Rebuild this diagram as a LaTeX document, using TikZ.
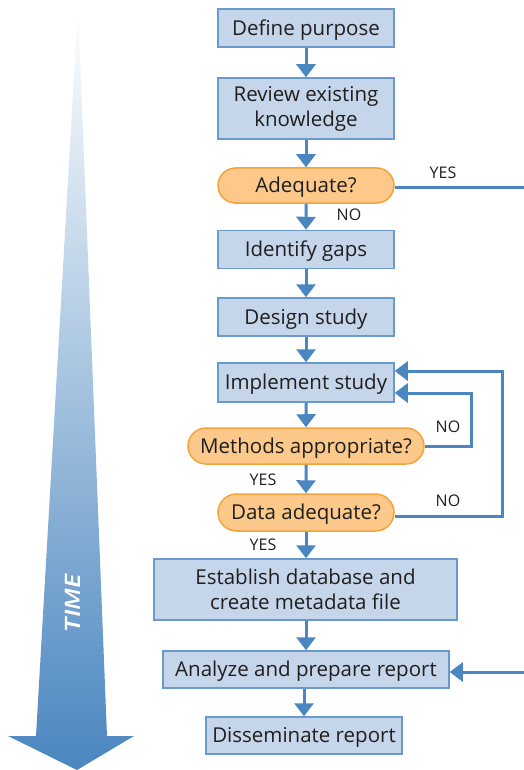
\documentclass[tikz,border=0pt]{standalone}
\usepackage{fontspec}
\setmainfont{Open Sans}
\usetikzlibrary{arrows.meta,shapes.misc}
\definecolor{boxfill}{HTML}{C5D5EA}
\definecolor{boxline}{HTML}{6A9ACB}
\definecolor{qfill}{HTML}{FDC98A}
\definecolor{qline}{HTML}{F4A23A}
\definecolor{flow}{HTML}{4A86C0}
\definecolor{timeblue}{HTML}{4A86C0}
\begin{document}
\begin{tikzpicture}[x=1pt,y=-1pt,
  stepbox/.style={draw=boxline,fill=boxfill,line width=1.5pt,minimum height=38pt,
    align=center,inner sep=0pt,text height=19.5pt,font=\fontsize{20.5}{25}\selectfont,text=black!88},
  twoline/.style={text height={},yshift=0pt},
  question/.style={rounded rectangle,draw=qline,fill=qfill,line width=1.5pt,minimum height=36pt,
    inner sep=0pt,text height=19.5pt,font=\fontsize{20.5}{25}\selectfont,text=black!88},
  flowline/.style={draw=flow,line width=3pt},
  flowarrow/.style={flowline,-{Triangle[length=13pt,width=19pt]}},
  lbl/.style={font=\fontsize{16}{18}\selectfont,text=black!88,inner sep=0pt}]
\useasboundingbox (0,0) rectangle (524,770);

% time axis: tapering shaft and arrow head
\shade[top color=white,bottom color=timeblue]
  (78,7) -- (107,736) -- (134,736) -- (77,770) -- (8,736) -- (36,736) -- cycle;
\node[rotate=90,text=white,font=\sffamily\bfseries\itshape\fontsize{22}{24}\selectfont] (time) at (73,605) {TIME};

% steps
\node[stepbox,minimum width=176pt] (purpose) at (306,28) {Define purpose};
\node[stepbox,twoline,minimum width=176pt,minimum height=61pt] (review) at (306,108.5) {Review existing\\knowledge};
\node[question,minimum width=176pt,minimum height=35pt] (adequate) at (306,185.5) {Adequate?};
\node[stepbox,minimum width=176pt] (gaps) at (306,249.5) {Identify gaps};
\node[stepbox,minimum width=176pt] (design) at (306,317) {Design study};
\node[stepbox,minimum width=176pt,minimum height=39pt] (implement) at (306,382.5) {Implement study};
\node[question,minimum width=236pt] (methods) at (306,446) {Methods appropriate?};
\node[question,minimum width=176pt,minimum height=37pt] (data) at (306,512.5) {Data adequate?};
\node[stepbox,twoline,minimum width=303pt,minimum height=61pt] (establish) at (305.5,589.5) {Establish database and\\create metadata file};
\node[stepbox,minimum width=286pt,minimum height=37pt] (analyze) at (306,669.5) {Analyze and prepare report};
\node[stepbox,minimum width=196pt,minimum height=37pt] (dissem) at (304,735.5) {Disseminate report};

% main flow
\draw[flowarrow] (purpose) -- (review);
\draw[flowarrow] (review) -- (adequate);
\draw[flowarrow] (adequate) -- (gaps);
\draw[flowarrow] (gaps) -- (design);
\draw[flowarrow] (design) -- (implement);
\draw[flowarrow] (implement) -- (methods);
\draw[flowarrow] (methods) -- (data);
\draw[flowarrow] (data.south) -- (data.south |- establish.north);
\draw[flowarrow] (establish.south -| analyze.north) -- (analyze);
\draw[flowarrow] (analyze.south -| dissem.north) -- (dissem);

% branches
\coordinate (yesout) at (524,187.5);
\coordinate (yesin) at (524,672);
\draw[flowline] (adequate.east |- yesout) -- (yesout);
\draw[flowarrow] (yesin) -- (yesin -| analyze.east);
\coordinate (loopa) at (471,446.5);
\coordinate (loopb) at (502,516);
\draw[flowarrow] (methods.east |- loopa) -- (loopa) -- (471,393) -- (implement.east |- 0,393);
\draw[flowarrow] (data.east |- loopb) -- (loopb) -- (502,371) -- (implement.east |- 0,371);

% labels
\node[lbl] (lyes1) at (443,173) {YES};
\node[lbl] (lno1) at (349,215) {NO};
\node[lbl] (lno2) at (448,427) {NO};
\node[lbl] (lno3) at (448,501) {NO};
\node[lbl] (lyes2) at (263,480) {YES};
\node[lbl] (lyes3) at (263,545) {YES};
\end{tikzpicture}
\end{document}
